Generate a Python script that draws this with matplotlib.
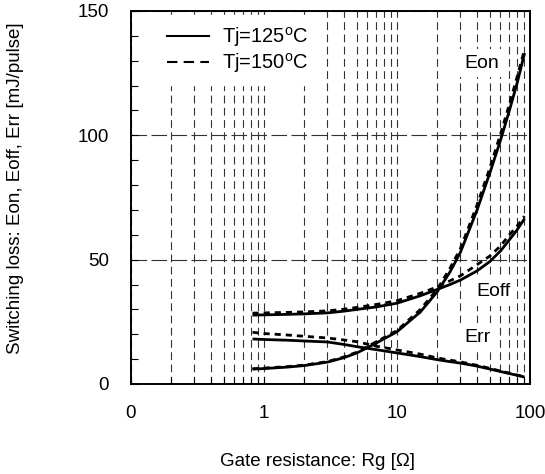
import matplotlib
matplotlib.use("Agg")
import matplotlib.pyplot as plt
from matplotlib.ticker import FixedLocator, FixedFormatter, LogLocator, MultipleLocator, NullFormatter

plt.rcParams['font.family'] = ['Liberation Sans', 'DejaVu Sans']
plt.rcParams['mathtext.fontset'] = 'custom'
plt.rcParams['mathtext.rm'] = 'Liberation Sans'

rg = [0.82, 1, 1.5, 2, 3, 4, 5, 7, 10, 15, 20, 25, 30, 40, 50, 60, 70, 80, 91]
eon_125 = [6.0, 6.2, 6.8, 7.4, 8.8, 10.6, 12.5, 16.5, 21, 29, 37, 45, 53, 70, 85, 98, 110, 121, 133]
eon_150 = [6.1, 6.4, 7.0, 7.6, 9.0, 10.9, 12.8, 17, 21.5, 30, 38, 46.5, 54.5, 72, 87, 100.5, 112.5, 123.5, 134.5]
eoff_125 = [27.7, 27.8, 28.0, 28.2, 28.6, 29.3, 30, 31, 32.5, 35.5, 38, 40, 41.8, 45.5, 49.3, 53.5, 58, 62, 66.5]
eoff_150 = [28.5, 28.6, 28.8, 29, 29.4, 30.1, 30.8, 32, 33.5, 36.5, 39, 41.5, 43.5, 48, 51.5, 55.5, 60, 63.5, 67.5]
err_125 = [18.1, 17.9, 17.6, 17.3, 16.9, 15.9, 15, 13.8, 12.5, 11, 9.8, 9, 8.4, 7.2, 6, 5, 4.2, 3.5, 2.8]
err_150 = [20.8, 20.3, 19.7, 19.2, 18.5, 17.7, 17, 15.2, 13.7, 12, 10.5, 9.6, 8.9, 7.5, 6.3, 5.2, 4.4, 3.6, 2.9]

x_ticks = [0.1, 1, 10, 100]
x_tick_labels = ['0', '1', '10', '100']
y_ticks = [0, 50, 100, 150]
series_labels = ['Tj=125$^\\mathregular{o}$C', 'Tj=150$^\\mathregular{o}$C']

fig = plt.figure(figsize=(5.45, 4.74), dpi=100)
ax = fig.add_axes([131/545, 1-384/474, (530-131)/545, (384-11)/474])

ax.set_xscale('log')
ax.set_xlim(0.1, 100)
ax.set_ylim(0, 150)

grid_kw = dict(color='#333333', lw=0.8, zorder=0)
ax.xaxis.set_major_locator(FixedLocator(x_ticks))
ax.xaxis.set_major_formatter(FixedFormatter(x_tick_labels))
ax.xaxis.set_minor_locator(LogLocator(base=10, subs=range(2, 10)))
ax.xaxis.set_minor_formatter(NullFormatter())
ax.yaxis.set_major_locator(FixedLocator(y_ticks))
ax.yaxis.set_minor_locator(MultipleLocator(10))

ax.grid(True, which='both', axis='x', linestyle=(0, (7, 4)), **grid_kw)
ax.grid(True, which='major', axis='y', linestyle=(0, (14, 4)), **grid_kw)

ax.tick_params(which='both', direction='in', length=5, width=0.8, top=False, right=False,
               labelsize=13.5)
ax.tick_params(axis='y', which='both', pad=16)
ax.tick_params(axis='x', which='both', pad=15)
for s in ax.spines.values():
    s.set_linewidth(1.4)

solid_kw = dict(color='black', lw=2.0, solid_capstyle='butt', zorder=3)
dash_kw = dict(color='black', lw=2.0, linestyle=(0, (2.2, 1.8)), zorder=4)

ax.plot(rg, eon_125, **solid_kw)
ax.plot(rg, eoff_125, **solid_kw)
ax.plot(rg, err_125, **solid_kw)
ax.plot(rg, eon_150, **dash_kw)
ax.plot(rg, eoff_150, **dash_kw)
ax.plot(rg, err_150, **dash_kw)

# legend with line styles like the reference
h1, = ax.plot([], [], color='black', lw=1.5)
h2, = ax.plot([], [], color='black', lw=1.5, linestyle=(0, (5, 3)))
leg = ax.legend([h1, h2], series_labels, loc='upper left',
                bbox_to_anchor=((157-131)/399, (384-15)/373), borderaxespad=0,
                frameon=True, fancybox=False, edgecolor='white', facecolor='white',
                framealpha=1, fontsize=14.5, handlelength=2.1, handletextpad=0.65,
                labelspacing=0.1, borderpad=0.5)
leg.set_zorder(5)

box = dict(facecolor='white', edgecolor='none', pad=4)
ax.text(43.5, 129, 'Eon', ha='center', va='center', fontsize=14, bbox=box, zorder=6)
ax.text(53.6, 37, 'Eoff', ha='center', va='center', fontsize=14, bbox=box, zorder=6)
ax.text(40, 18.9, 'Err', ha='center', va='center', fontsize=14, bbox=box, zorder=6)

fig.text(16/545, 1-188/474, 'Switching loss: Eon, Eoff, Err [mJ/pulse]', rotation=90,
         ha='center', va='center', fontsize=13.5)
fig.text(317/545, 1-461/474, 'Gate resistance: Rg [\u03a9]', ha='center', va='center',
         fontsize=13.5)

fig.savefig('out.png', dpi=100)
